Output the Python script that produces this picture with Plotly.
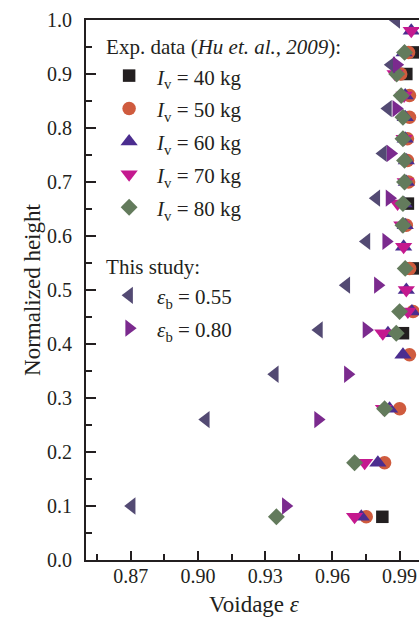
import plotly.graph_objects as go

# ---------------- data ----------------
heights_exp = [0.08, 0.18, 0.28, 0.38, 0.42, 0.46, 0.50, 0.54, 0.58, 0.62,
               0.66, 0.70, 0.74, 0.78, 0.82, 0.86, 0.90, 0.94, 0.98]
iv40 = [0.9823, None, None, None, 0.9915, None, None, 0.9960, None, None,
        0.9937, None, None, None, None, None, 0.9930, 0.9967, None]
iv50 = [0.9751, 0.9833, 0.9900, 0.9944, None, 0.9960, None, 0.9945, None, 0.9930,
        None, 0.9940, 0.9935, 0.9935, 0.9944, 0.9944, 0.9905, 0.9940, None]
iv60 = [0.9729, 0.9803, 0.9855, 0.9915, 0.9848, 0.9955, 0.9930, None, 0.9918, 0.9925,
        0.9920, 0.9930, 0.9930, 0.9925, 0.9925, 0.9925, None, 0.9920, 0.9952]
iv70 = [0.9699, 0.9744, 0.9828, None, 0.9825, 0.9937, 0.9930, None, 0.9918, 0.9910,
        0.9891, 0.9925, None, 0.9920, None, 0.9920, 0.9880, None, 0.9952]
iv80 = [0.9350, 0.9699, 0.9833, None, 0.9885, 0.9900, None, 0.9925, None, 0.9915,
        0.9915, 0.9922, 0.9922, 0.9915, 0.9915, 0.9907, 0.9887, 0.9922, None]

heights_sim = [0.10, 0.26, 0.344, 0.426, 0.509, 0.59, 0.67, 0.753, 0.836, 0.917, 1.0]
eb055 = [0.8704, 0.9035, 0.9343, 0.9540, 0.9662, 0.9752, 0.9796, 0.9826, 0.9848, 0.9863, 0.9885]
eb080 = [0.9392, 0.9536, 0.9669, 0.9752, 0.9803, 0.9840, 0.9855, 0.9860, 0.9885, 0.9887, None]

x_ticks = [0.87, 0.90, 0.93, 0.96, 0.99]
y_ticks = [0.0, 0.1, 0.2, 0.3, 0.4, 0.5, 0.6, 0.7, 0.8, 0.9, 1.0]

# ---------------- style ----------------
FONT = "Liberation Serif"
INK = "#231f20"
TICK = 20
LEG = 21

def lab(s):
    return f"<span style='font-size:{LEG}px'>{s}</span>"

exp_series = [
    (iv40, "<i>I</i><sub>v</sub> = 40 kg", "square", "#231f20", 12.5),
    (iv50, "<i>I</i><sub>v</sub> = 50 kg", "circle", "#cf5b3e", 13.5),
    (iv60, "<i>I</i><sub>v</sub> = 60 kg", "triangle-up", "#4b2d8f", 15),
    (iv70, "<i>I</i><sub>v</sub> = 70 kg", "triangle-down", "#c4198f", 15),
    (iv80, "<i>I</i><sub>v</sub> = 80 kg", "diamond", "#637b5c", 13),
]
sim_series = [
    (eb055, "<i>ε</i><sub>b</sub> = 0.55", "triangle-left", "#534a73", 15),
    (eb080, "<i>ε</i><sub>b</sub> = 0.80", "triangle-right", "#7b2a8e", 15),
]

fig = go.Figure()
for vals, name, sym, col, sz in exp_series:
    fig.add_trace(go.Scatter(
        x=vals, y=heights_exp, mode="markers", name=lab(name),
        legendgroup="exp",
        legendgrouptitle=dict(text=lab("Exp. data (<i>Hu et. al., 2009</i>):"),
                              font=dict(family=FONT, size=14, color=INK)),
        marker=dict(symbol=sym, color=col, size=sz, line=dict(width=0)),
    ))
for vals, name, sym, col, sz in sim_series:
    fig.add_trace(go.Scatter(
        x=vals, y=heights_sim, mode="markers", name=lab(name),
        legendgroup="sim",
        legendgrouptitle=dict(text=lab("This study:"),
                              font=dict(family=FONT, size=14, color=INK)),
        marker=dict(symbol=sym, color=col, size=sz, line=dict(width=0)),
    ))

axis_common = dict(
    showline=True, linecolor=INK, linewidth=2,
    ticks="inside", tickcolor=INK, tickwidth=2,
    showgrid=False, zeroline=False,
    tickfont=dict(family=FONT, size=TICK, color=INK),
    automargin=False, mirror=True,
)

fig.update_xaxes(
    **axis_common,
    range=[0.85, 1.0], tickvals=x_ticks, ticktext=[f"{v:.2f}" for v in x_ticks],
    ticklen=9, ticklabelstandoff=-3,
    minor=dict(tickvals=[0.855, 0.885, 0.915, 0.945, 0.975], ticks="inside",
               ticklen=6, tickcolor=INK, tickwidth=2),
    title=dict(text="Voidage <i>ε</i>", font=dict(family=FONT, size=23, color=INK),
               standoff=10),
)
fig.update_yaxes(
    **axis_common,
    range=[0, 1], tickvals=y_ticks, ticktext=[f"{v:.1f}" for v in y_ticks],
    ticklen=10, ticklabelstandoff=8,
    minor=dict(dtick=0.05, tick0=0.05, ticks="inside", ticklen=6,
               tickcolor=INK, tickwidth=2),
    title=dict(text="Normalized height", font=dict(family=FONT, size=23, color=INK),
               standoff=0),
)

fig.update_layout(
    width=422, height=620,
    margin=dict(l=86, r=0, t=20, b=60, pad=0),
    paper_bgcolor="white", plot_bgcolor="white",
    font=dict(family=FONT, size=TICK, color=INK),
    showlegend=True,
    legend=dict(
        x=0.045, y=0.976, xanchor="left", yanchor="top",
        bgcolor="rgba(0,0,0,0)", borderwidth=0,
        font=dict(family=FONT, size=23, color=INK),
        traceorder="grouped", tracegroupgap=34, itemwidth=46,
        itemclick=False, itemdoubleclick=False,
    ),
)

fig.write_html(
    "out.html",
    config={"displayModeBar": False},
    post_script=("document.documentElement.style.overflow='hidden';"
                 "document.body.style.overflow='hidden';"
                 "document.body.style.margin='0';"),
)
